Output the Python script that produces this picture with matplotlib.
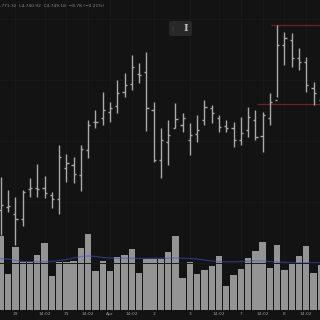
import matplotlib
matplotlib.use("Agg")
import matplotlib.pyplot as plt
from matplotlib.patches import FancyBboxPatch
import numpy as np

# ---- data (bar index -1 .. 43) ----
opens  = [4632, 4635, 4628, 4623, 4653, 4654, 4654, 4647, 4643, 4674, 4677, 4667, 4692, 4720, 4724, 4730,
          4736, 4750, 4758, 4768, 4770, 4732, 4682, 4700, 4714, 4717, 4702, 4708, 4722, 4734, 4724, 4716,
          4714, 4702, 4712, 4722, 4706, 4724, 4742, 4797, 4802, 4784, 4780, 4754, 4742]
highs  = [4665, 4652, 4645, 4652, 4664, 4678, 4666, 4650, 4697, 4688, 4685, 4697, 4722, 4732, 4750, 4740,
          4762, 4769, 4787, 4779, 4790, 4740, 4714, 4722, 4739, 4729, 4719, 4727, 4742, 4737, 4727, 4722,
          4720, 4725, 4735, 4732, 4730, 4749, 4817, 4810, 4809, 4794, 4785, 4760, 4752]
lows   = [4607, 4630, 4597, 4616, 4645, 4645, 4644, 4634, 4628, 4660, 4659, 4651, 4684, 4714, 4717, 4720,
          4729, 4745, 4752, 4759, 4711, 4680, 4664, 4677, 4714, 4710, 4687, 4700, 4717, 4719, 4710, 4710,
          4695, 4697, 4705, 4702, 4690, 4717, 4745, 4777, 4775, 4772, 4750, 4737, 4734]
closes = [4637, 4636, 4623, 4650, 4654, 4653, 4649, 4643, 4685, 4679, 4668, 4693, 4717, 4720, 4732, 4734,
          4749, 4757, 4775, 4767, 4734, 4682, 4702, 4707, 4723, 4724, 4707, 4712, 4735, 4729, 4715, 4714,
          4702, 4709, 4725, 4705, 4727, 4740, 4797, 4804, 4784, 4780, 4757, 4749, 4738]
volumes = [74, 36, 63, 48, 48, 55, 67, 34, 48, 48, 49, 62, 76, 39, 49, 39, 53, 55, 61, 37, 51, 51, 51, 58,
           74, 32, 48, 36, 40, 44, 54, 24, 35, 41, 52, 59, 68, 42, 65, 40, 46, 54, 64, 37, 45]
volume_ma = [51.5, 51, 49.5, 48.5, 48.3, 48.3, 48.3, 48.5, 49.5, 50.5, 52, 53.5, 54, 53.5, 52.5, 52,
             51.7, 51.7, 51.7, 51.5, 51.5, 51.7, 51.7, 51.7, 52, 51.7, 51.5, 51, 50, 49, 48.3, 48.3,
             48.3, 48.5, 48.8, 49, 49, 48.5, 48, 47.7, 47.5, 47.3, 47.3, 47.3, 47.3]
first_index = -1

tick_bars = [1, 5, 8, 11, 14, 17, 20, 25, 29, 32, 35, 38, 41]
tick_labels = ["29", "14:02", "31", "14:02", "Apr", "14:02", "2", "3", "14:02", "7", "14:02", "8", "14:02"]

level_prices = [4817, 4737.7]
level_starts = [36.2, 34.2]

header = ",771.32  L4,740.92  C4,749.18  \u22128.78 (\u22120.21%)"

# ---- style ----
BG = "#131313"
BAR = "#a9a9a9"
VOL = "#949494"
GRID = "#191919"
TXT = "#9a9a9a"

x = np.arange(len(opens)) + first_index

fig = plt.figure(figsize=(3.2, 3.2), dpi=100, facecolor=BG)
vol_ax = fig.add_axes([0, 10 / 320, 1, 310 / 320])
vol_ax.set_facecolor(BG)
price_ax = vol_ax.twinx()
price_ax.patch.set_visible(False)

xmin, xmax = -1.128, 42.89
for a in (vol_ax, price_ax):
    a.set_xlim(xmin, xmax)
    for s in a.spines.values():
        s.set_visible(False)

# grid
for tb in tick_bars:
    vol_ax.axvline(tb, color=GRID, lw=0.7, zorder=0)
for gp in [4823, 4762, 4701, 4640, 4579]:
    price_ax.axhline(gp, color=GRID, lw=0.7, zorder=0)

# volume
vol_ax.bar(x, volumes, width=0.88, color=VOL, zorder=2, linewidth=0)
vol_ax.plot(x, volume_ma, color="#4a4ad8", lw=0.9, alpha=0.55, zorder=3)
vol_ax.set_ylim(0, 310)
vol_ax.set_yticks([])

# OHLC bars
tick = 0.3
price_ax.vlines(x, lows, highs, color=BAR, lw=1.0, zorder=4)
price_ax.hlines(opens, x - tick, x, color=BAR, lw=1.0, zorder=4)
price_ax.hlines(closes, x, x + tick, color=BAR, lw=1.0, zorder=4)
for lp, ls in zip(level_prices, level_starts):
    price_ax.hlines(lp, ls, xmax, color="#6e2030", lw=0.9, zorder=3)
price_ax.set_ylim(4842 - 310, 4842)
price_ax.set_yticks([])

# x labels
vol_ax.set_xticks(tick_bars)
vol_ax.set_xticklabels(tick_labels, fontsize=3.2, color=TXT)
vol_ax.tick_params(axis="x", length=0, pad=1.5)

# header text
fig.text(0.5 / 320, 1 - 6 / 320, header, ha="left", va="center", fontsize=3.2, color="#8a8a8a")

# floating tool box
box = FancyBboxPatch((169 / 320, 1 - 36 / 320), 23 / 320, 15 / 320,
                     boxstyle="round,pad=0,rounding_size=0.006",
                     transform=fig.transFigure, facecolor="#282828", edgecolor="none", zorder=10)
fig.patches.append(box)
fig.text(172 / 320, 1 - 28.5 / 320, "|", ha="center", va="center", fontsize=4, color="#4a4a4a", zorder=11)
fig.text(185.5 / 320, 1 - 28.5 / 320, "I", ha="center", va="center", fontsize=7,
         family="DejaVu Serif", weight="bold", color="#bdbdbd", zorder=11)

fig.savefig("out.png", dpi=100, facecolor=BG)
